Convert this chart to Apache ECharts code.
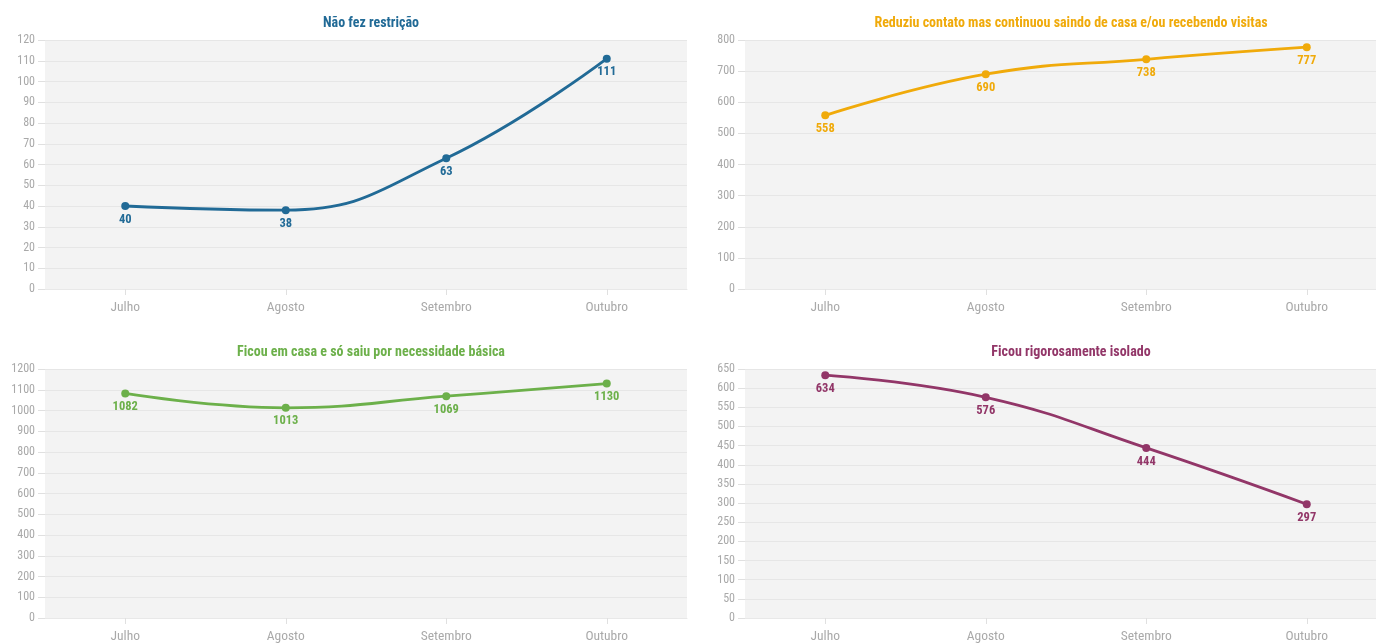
<!DOCTYPE html>
<html>
<head>
<meta charset="utf-8">
<script src="https://cdn.jsdelivr.net/npm/echarts@6/dist/echarts.min.js"></script>
<style>
html,body{margin:0;padding:0;background:#fff;overflow:hidden;width:1376px;height:644px;}
#c{width:1400px;height:644px;}
</style>
</head>
<body>
<div id="c"></div>
<script>
const months = ['Julho', 'Agosto', 'Setembro', 'Outubro'];
const titles = ['Não fez restrição', 'Reduziu contato mas continuou saindo de casa e/ou recebendo visitas', 'Ficou em casa e só saiu por necessidade básica', 'Ficou rigorosamente isolado'];
const naoFezRestricao = [40, 38, 63, 111];
const reduziuContato = [558, 690, 738, 777];
const ficouEmCasa = [1082, 1013, 1069, 1130];
const rigorosamenteIsolado = [634, 576, 444, 297];
const yMax = [120, 800, 1200, 650];
const yStep = [10, 100, 100, 50];

const seriesData = [naoFezRestricao, reduziuContato, ficouEmCasa, rigorosamenteIsolado];
const colors = ['#216a96', '#f0aa0a', '#6cb04a', '#923668'];
const FONT = "'Roboto Condensed', 'Liberation Sans Narrow', 'DejaVu Sans Condensed', sans-serif";

const grids = [
  {left: 45, top: 40, width: 642, height: 249},
  {left: 745, top: 40, width: 642, height: 249},
  {left: 45, top: 369, width: 642, height: 249},
  {left: 745, top: 369, width: 642, height: 249}
];

const chart = echarts.init(document.getElementById('c'));
const option = {
  animation: false,
  textStyle: {fontFamily: FONT},
  title: grids.map((g, i) => ({
    text: titles[i],
    left: g.left + g.width / 2,
    top: g.top - 29,
    textAlign: 'center',
    textStyle: {fontFamily: FONT, fontSize: 14, fontWeight: 'bold', color: colors[i]}
  })),
  grid: grids.map(g => Object.assign({backgroundColor: '#f3f3f3', show: true, borderWidth: 0}, g)),
  xAxis: grids.map((g, i) => ({
    type: 'category',
    gridIndex: i,
    data: months,
    boundaryGap: true,
    axisLine: {show: true, lineStyle: {color: '#e8e8e8'}},
    axisTick: {show: true, alignWithLabel: true, length: 6, lineStyle: {color: '#e0e0e0'}},
    axisLabel: {color: '#a9a9a9', fontSize: 13.5, margin: 12, fontFamily: FONT},
    splitLine: {show: false}
  })),
  yAxis: grids.map((g, i) => ({
    type: 'value',
    gridIndex: i,
    min: 0,
    max: yMax[i],
    interval: yStep[i],
    axisLine: {show: false},
    axisTick: {show: true, length: 7, lineStyle: {color: '#e0e0e0'}},
    axisLabel: {color: '#a9a9a9', fontSize: 12, margin: 10, fontFamily: FONT, formatter: v => String(v)},
    splitLine: {show: true, lineStyle: {color: '#e6e6e6'}}
  })),
  series: seriesData.map((d, i) => ({
    type: 'line',
    xAxisIndex: i,
    yAxisIndex: i,
    data: d,
    smooth: 0.45,
    symbol: 'circle',
    symbolSize: 8,
    lineStyle: {width: 2.8, color: colors[i]},
    itemStyle: {color: colors[i]},
    label: {show: true, position: 'bottom', distance: 3, color: colors[i], fontWeight: 'bold', fontSize: 12.5, fontFamily: FONT}
  }))
};
chart.setOption(option);
</script>
</body>
</html>
